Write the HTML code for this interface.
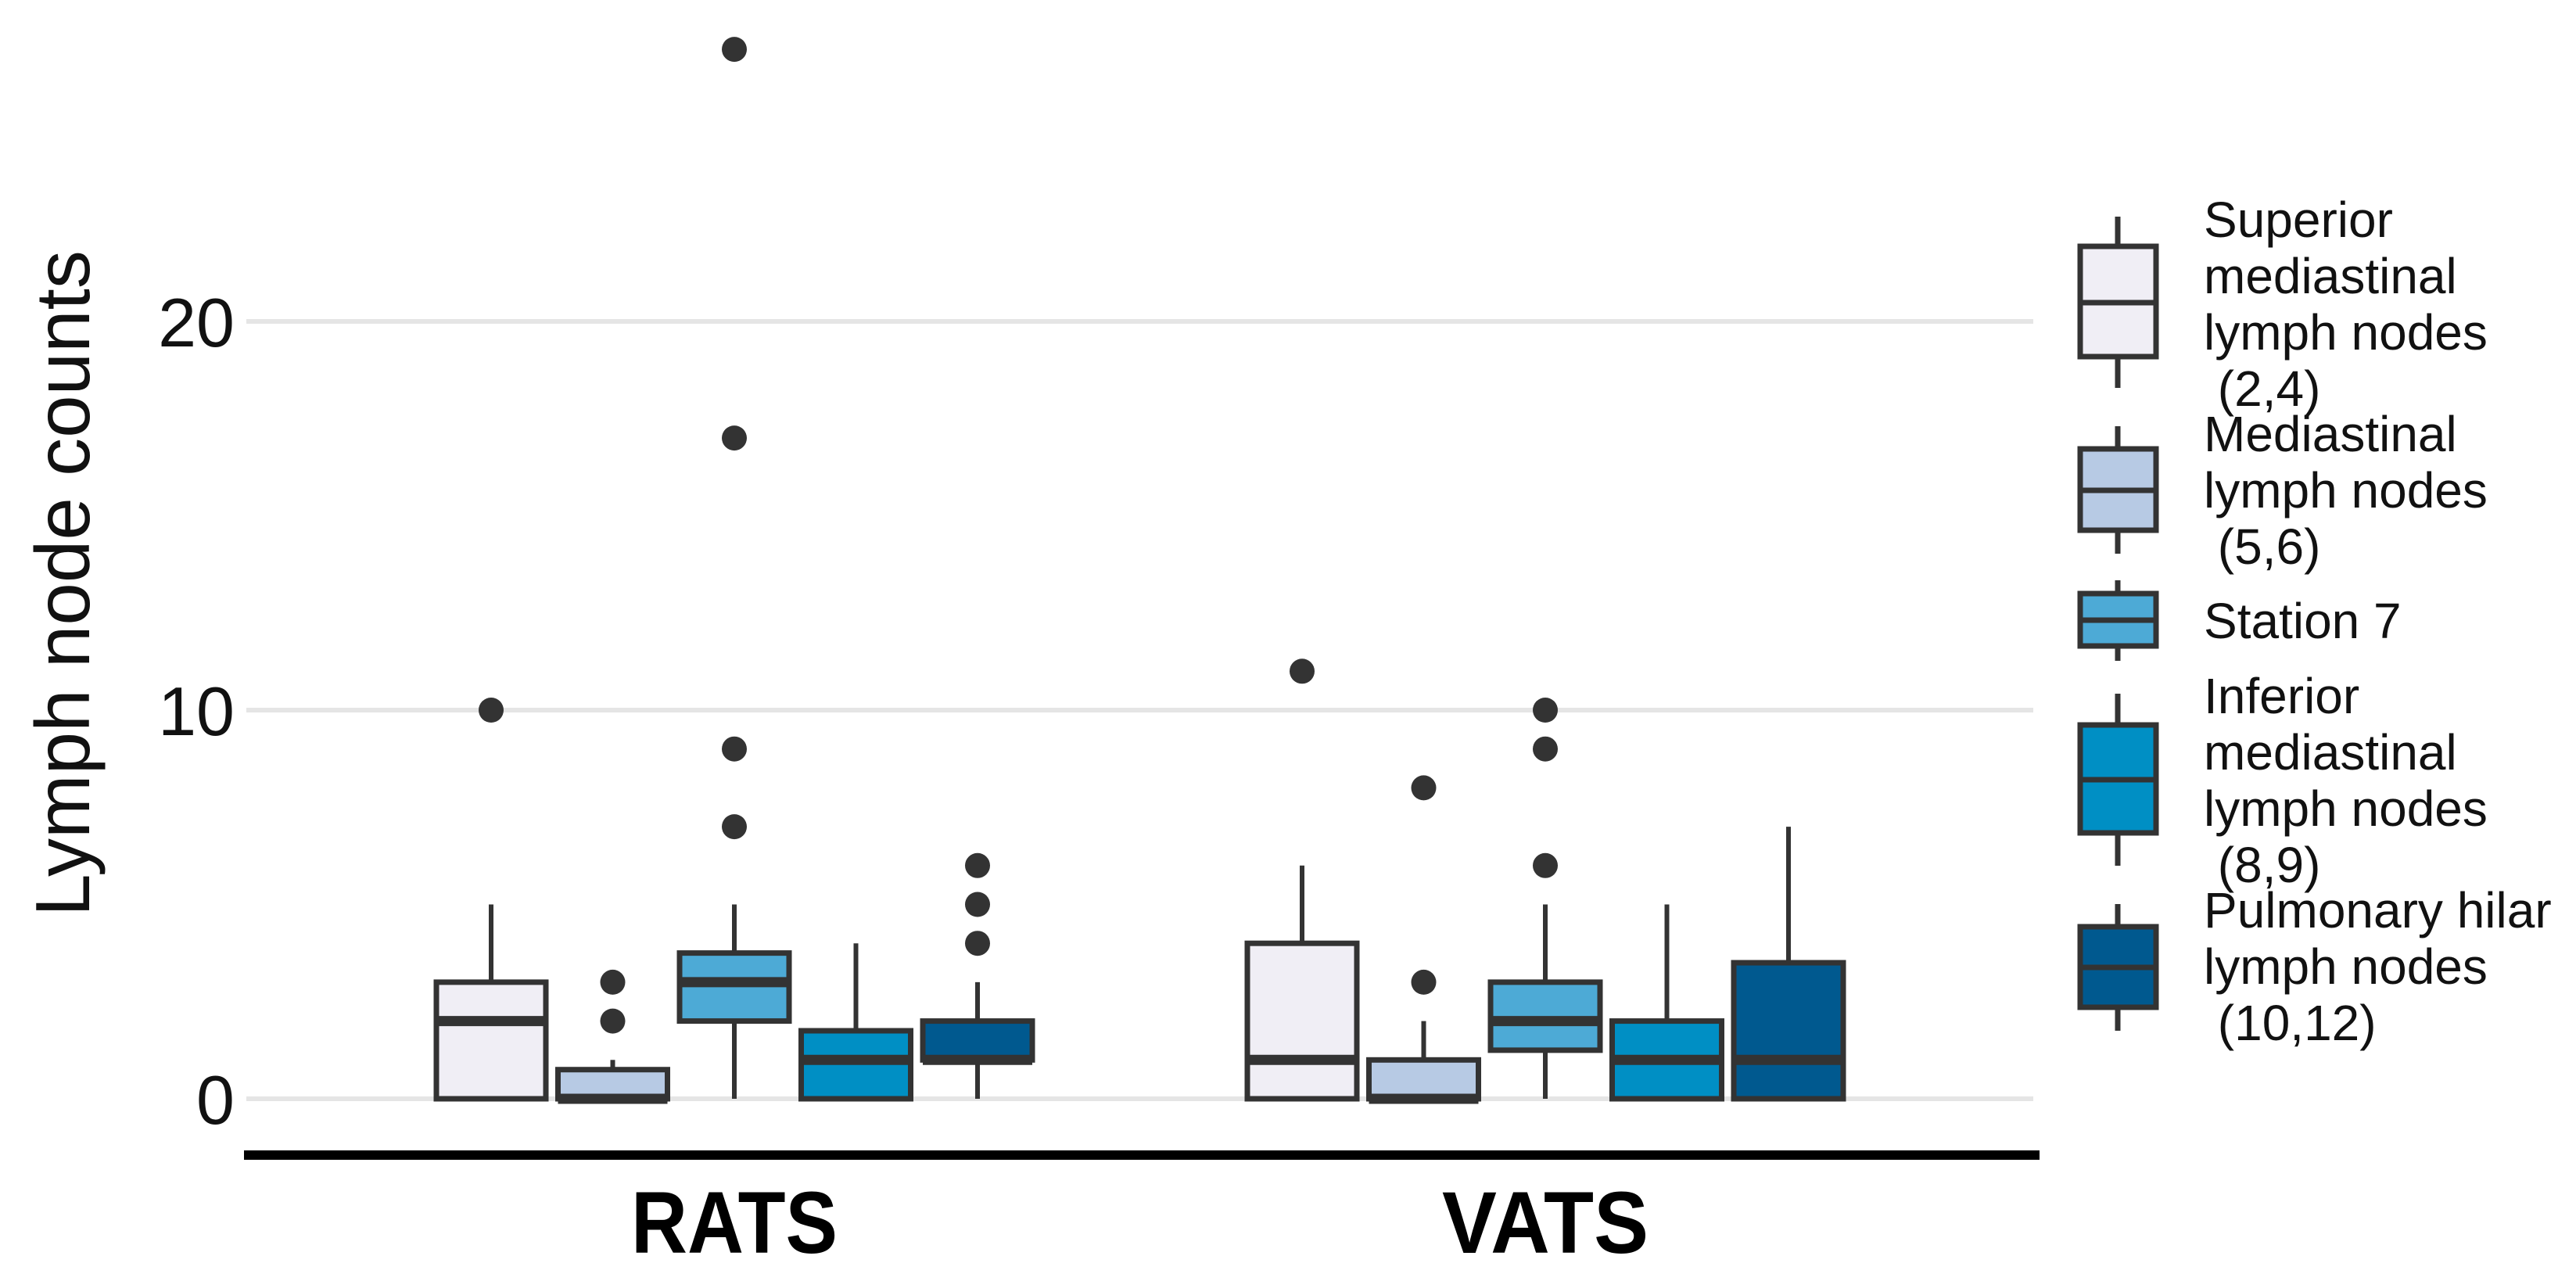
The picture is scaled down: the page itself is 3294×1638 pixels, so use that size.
<!DOCTYPE html>
<html><head><meta charset="utf-8"><style>
html,body{margin:0;padding:0;background:#fff;}
svg{display:block;font-family:"Liberation Sans",sans-serif;}
</style></head><body>
<svg id="chart" width="3294" height="1638" viewBox="0 0 3294 1638" xmlns="http://www.w3.org/2000/svg">
<rect width="3294" height="1638" fill="#fff"/>
<g id="grid"></g>
<g id="boxes"></g>
<line x1="312" y1="1477" x2="2608" y2="1477" stroke="#000" stroke-width="12"/>
<text x="80" y="746" font-size="98" fill="#111" text-anchor="middle" dominant-baseline="central" transform="rotate(-90 80 746)">Lymph node counts</text>
<g id="legend"></g>
</svg>
<script>
const groups = ["RATS", "VATS"];
const series = ["Superior mediastinal lymph nodes (2,4)", "Mediastinal lymph nodes (5,6)", "Station 7", "Inferior mediastinal lymph nodes (8,9)", "Pulmonary hilar lymph nodes (10,12)"];
const colors = ["#f0eef5", "#b7cae4", "#4daad6", "#008fc4", "#00598f"];
const yTicks = [0, 10, 20];
// [whiskerLow, q1, median, q3, whiskerHigh]
const ratsStats = [[0,0,2,3,5],[0,0,0,0.75,1],[0,2,3,3.75,5],[0,0,1,1.75,4],[0,1,1,2,3]];
const vatsStats = [[0,0,1,4,6],[0,0,0,1,2],[0,1.25,2,3,5],[0,0,1,2,5],[0,0,1,3.5,7]];
const ratsOutliers = [[10],[2,3],[7,9,17,27],[],[4,5,6]];
const vatsOutliers = [[11],[3,8],[6,9,10],[],[]];
const legendLines = [["Superior","mediastinal","lymph nodes"," (2,4)"],["Mediastinal","lymph nodes"," (5,6)"],["Station 7"],["Inferior","mediastinal","lymph nodes"," (8,9)"],["Pulmonary hilar","lymph nodes"," (10,12)"]];

const NS = "http://www.w3.org/2000/svg";
function y(v){ return 1405 - 49.7*v; }
function groupX(i){ return 939 + i*1037; }
function dodgeX(g,s){ return groupX(g) + (s-2)*155.5; }
function mk(tag, attrs, parent){ const e=document.createElementNS(NS,tag); for(const k in attrs) e.setAttribute(k,attrs[k]); parent.appendChild(e); return e; }

const grid = document.getElementById('grid');
yTicks.forEach(t=>{
  const l = mk('line',{x1:315,x2:2600,y1:y(t),y2:y(t),stroke:'#e5e5e5','stroke-width':6},grid);
  
  
  const tx = mk('text',{x:300,y:y(t)+32,'font-size':88,'text-anchor':'end',fill:'#111'},grid);
  tx.textContent = t;
  
  
});

const boxes = document.getElementById('boxes');
const allStats=[ratsStats,vatsStats], allOut=[ratsOutliers,vatsOutliers];
groups.forEach((gname,g)=>{
  const lab = mk('text',{x:groupX(g),y:1602,'font-size':112,'font-weight':'bold','text-anchor':'middle',fill:'#000',textLength:264,lengthAdjust:'spacingAndGlyphs'},boxes);
  lab.textContent = gname;
  
  
  series.forEach((s,i)=>{
    const [wl,q1,md,q3,wh] = allStats[g][i];
    const cx = dodgeX(g,i), w = 140;
    const grp = mk('g',{},boxes);
    
    
    mk('line',{x1:cx,x2:cx,y1:y(wh),y2:y(q3),stroke:'#333','stroke-width':6},grp);
    mk('line',{x1:cx,x2:cx,y1:y(q1),y2:y(wl),stroke:'#333','stroke-width':6},grp);
    mk('rect',{x:cx-w/2,y:y(q3),width:w,height:Math.max(y(q1)-y(q3),0.1),fill:colors[i],stroke:'#333','stroke-width':7},grp);
    mk('line',{x1:cx-w/2,x2:cx+w/2,y1:y(md),y2:y(md),stroke:'#333','stroke-width':13},grp);
    allOut[g][i].forEach(o=>{
      const c = mk('circle',{cx:cx,cy:y(o),r:16,fill:'#333'},grp);
      
      
    });
  });
});

const legend = document.getElementById('legend');
// [boxTop, boxBottom, median, whiskerTop, whiskerBottom]
const keyBoxes = [[315,456,387,277,496],[574,678,627,545,708],[759,826,793,742,845],[927,1065,997,887,1107],[1185,1288,1237,1156,1318]];
const textStarts = [303, 577, 816, 912, 1186];
series.forEach((s,i)=>{
  const [top,bot,med,wt,wb] = keyBoxes[i];
  const k = mk('g',{},legend);
  
  
  mk('line',{x1:2708,x2:2708,y1:wt,y2:wb,stroke:'#333','stroke-width':7},k);
  mk('rect',{x:2660,y:top,width:97,height:bot-top,fill:colors[i],stroke:'#333','stroke-width':7},k);
  mk('line',{x1:2660,x2:2757,y1:med,y2:med,stroke:'#333','stroke-width':7},k);
  legendLines[i].forEach((ln,j)=>{
    const t = mk('text',{x:2818,y:textStarts[i]+j*72,'font-size':64,fill:'#111'},k);
    t.setAttributeNS("http://www.w3.org/XML/1998/namespace","xml:space","preserve");
    t.textContent = ln;
  });
});
</script>
</body></html>
